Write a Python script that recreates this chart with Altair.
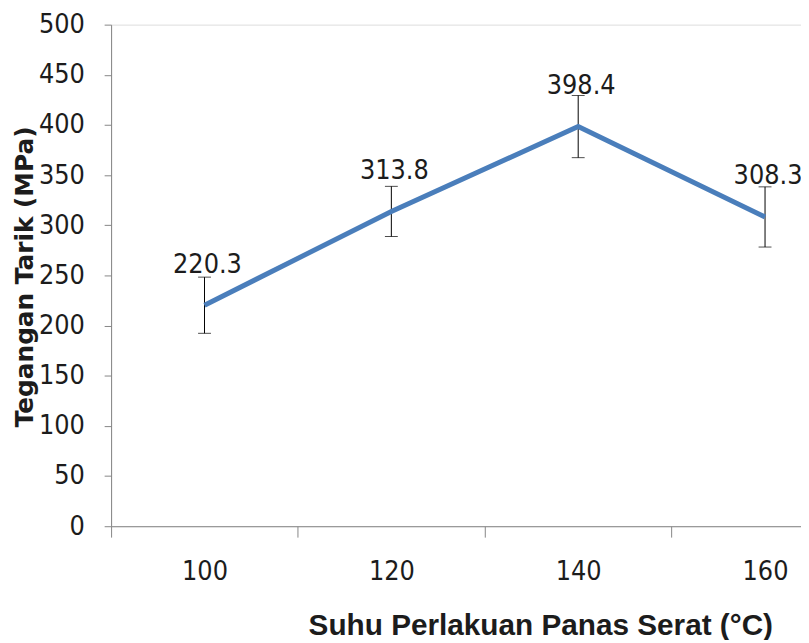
import altair as alt
import pandas as pd

# Data
temps = [100, 120, 140, 160]
tensile = [220.3, 313.8, 398.4, 308.3]
errors = [28, 25, 31, 30]
y_ticks = [0, 50, 100, 150, 200, 250, 300, 350, 400, 450, 500]
x_ticks = [90, 100, 110, 120, 130, 140, 150, 160]

df = pd.DataFrame({"temp": temps, "val": tensile, "err": errors})

NUM_FONT = "Liberation Sans Narrow, DejaVu Sans Condensed, Liberation Sans"
AX_COLOR = "#868686"
TXT = "#1c1c1c"

x_enc = alt.X(
    "temp:Q",
    scale=alt.Scale(domain=[90, 163.85], nice=False, zero=False),
    axis=alt.Axis(
        values=x_ticks,
        labelExpr="datum.value % 20 == 0 ? datum.label : ''",
        tickOpacity={"condition": {"test": "datum.value % 20 == 0", "value": 0}, "value": 1},
        tickSize=11,
        tickColor=AX_COLOR,
        domainColor=AX_COLOR,
        labelPadding=22,
        labelFont=NUM_FONT,
        labelFontSize=27,
        labelColor=TXT,
        labelOverlap=False,
        labelFlush=False,
        grid=False,
        title="Suhu Perlakuan Panas Serat (°C)",
        titleFont="Liberation Sans Narrow, Liberation Sans",
        titleFontSize=30,
        titleFontWeight="bold",
        titleColor=TXT,
        titleX=433,
        titleY=109,
        titleAlign="center",
        titleBaseline="alphabetic",
    ),
)

y_axis = alt.Axis(
    values=y_ticks,
    tickSize=7,
    tickColor=AX_COLOR,
    domainColor=AX_COLOR,
    labelPadding=20,
    labelFont=NUM_FONT,
    labelFontSize=27,
    labelColor=TXT,
    labelOverlap=False,
    labelFlush=False,
    grid=False,
    title="Tegangan Tarik (MPa)",
    titleFont="DejaVu Sans",
    titleFontSize=25,
    titleFontWeight="bold",
    titleColor=TXT,
    titleAngle=270,
    titleX=-79,
    titleY=254,
    titleAlign="center",
    titleBaseline="alphabetic",
)
y_scale = alt.Scale(domain=[0, 500], nice=False)

base = alt.Chart(df)

errbar = base.mark_errorbar(
    color="black", thickness=1, ticks={"size": 13, "color": "black"}
).encode(
    x=x_enc,
    y=alt.Y("val:Q", scale=y_scale, axis=y_axis),
    yError=alt.YError("err:Q"),
)

line = base.mark_line(color="#4A7EBB", strokeWidth=5).encode(
    x=x_enc,
    y=alt.Y("val:Q", scale=y_scale, axis=y_axis),
)

labels = base.mark_text(
    font=NUM_FONT, fontSize=27, color=TXT, dx=3, dy=-33, baseline="alphabetic", align="center"
).encode(
    x=x_enc,
    y=alt.Y("val:Q", scale=y_scale, axis=y_axis),
    text=alt.Text("val:Q", format=".1f"),
)

chart = (
    alt.layer(errbar, line, labels)
    .properties(
        width=696,
        height=506,
        padding={"left": 104, "top": 14, "right": 0, "bottom": 112},
        autosize=alt.AutoSizeParams(type="none"),
    )
    .configure_view(stroke=None)
    .configure(background="white")
)

chart.save("out.html", embed_options={"renderer": "svg", "actions": False})
